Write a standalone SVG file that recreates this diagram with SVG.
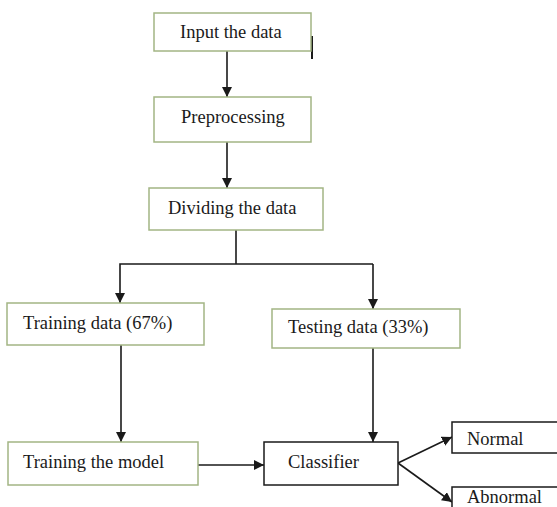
<svg xmlns="http://www.w3.org/2000/svg" width="557" height="507" viewBox="0 0 557 507">
<defs>
<marker id="ah" viewBox="0 0 10 10" refX="10" refY="5" markerWidth="10" markerHeight="10" markerUnits="userSpaceOnUse" orient="auto">
<path d="M0,0 L10,5 L0,10 Z" fill="#1a1a1a"/>
</marker>
<style>
.g{fill:#fff;stroke:#a3b584;stroke-width:1.5}
.k{fill:#fff;stroke:#1a1a1a;stroke-width:1.5}
.t{font-family:"Liberation Serif","Times New Roman",serif;font-size:18.5px;fill:#1a1a1a}
.c{fill:none;stroke:#1a1a1a;stroke-width:1.6}
.a{fill:none;stroke:#1a1a1a;stroke-width:1.6;marker-end:url(#ah)}
</style>
</defs>
<rect width="557" height="507" fill="#fff"/>
<g id="connectors">
<line class="a" x1="227" y1="51" x2="227" y2="97"/>
<line class="a" x1="227" y1="142" x2="227" y2="188"/>
<line class="c" x1="236" y1="230" x2="236" y2="264"/>
<polyline class="a" points="373,264 120,264 120,303"/>
<line class="a" x1="373" y1="264" x2="373" y2="309"/>
<line class="a" x1="121" y1="345" x2="121" y2="442"/>
<line class="a" x1="373" y1="348" x2="373" y2="442"/>
<line class="a" x1="198" y1="465" x2="264" y2="465"/>
<line class="a" x1="398" y1="463" x2="452" y2="437"/>
<line class="a" x1="398" y1="463" x2="452" y2="502"/>
<line x1="312" y1="36" x2="312" y2="59" stroke="#1a1a1a" stroke-width="2"/>
</g>
<g id="input">
<rect class="g" x="154" y="13" width="157" height="38"/>
<text class="t" x="180" y="38">Input the data</text>
</g>
<g id="preprocessing">
<rect class="g" x="154" y="97" width="157" height="45"/>
<text class="t" x="181" y="123">Preprocessing</text>
</g>
<g id="dividing">
<rect class="g" x="149" y="188" width="174" height="42"/>
<text class="t" x="168" y="214">Dividing the data</text>
</g>
<g id="training-data">
<rect class="g" x="7" y="303" width="197" height="42"/>
<text class="t" x="23" y="329">Training data (67%)</text>
</g>
<g id="testing-data">
<rect class="g" x="272" y="309" width="188" height="39"/>
<text class="t" x="288" y="333">Testing data (33%)</text>
</g>
<g id="training-model">
<rect class="g" x="8" y="442" width="190" height="43"/>
<text class="t" x="23" y="468">Training the model</text>
</g>
<g id="classifier">
<rect class="k" x="264" y="442" width="134" height="43"/>
<text class="t" x="288" y="468">Classifier</text>
</g>
<g id="normal">
<rect class="k" x="452" y="422" width="120" height="31"/>
<text class="t" x="467" y="445">Normal</text>
</g>
<g id="abnormal">
<rect class="k" x="452" y="487" width="120" height="40"/>
<text class="t" x="467" y="503">Abnormal</text>
</g>
</svg>
